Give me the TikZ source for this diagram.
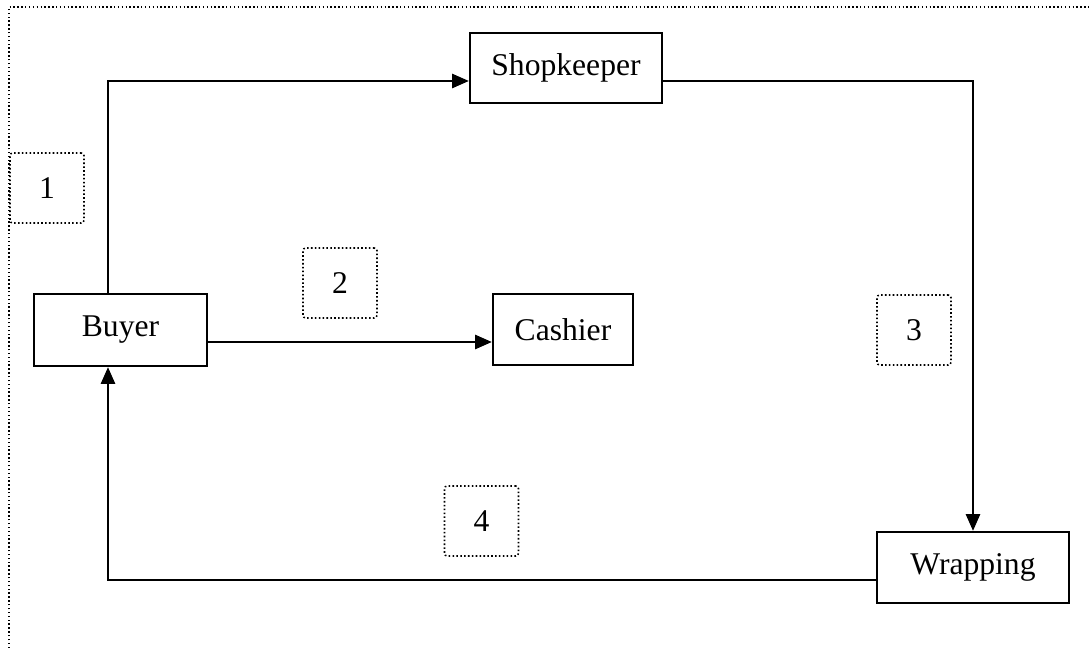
\documentclass[tikz,border=0pt]{standalone}
\usepackage{fontspec}
\setmainfont{Liberation Serif}
\usetikzlibrary{arrows.meta}
\begin{document}
\begin{tikzpicture}[x=0.02cm,y=-0.02cm,
  every node/.style={font=\fontsize{18}{20}\selectfont},
  mainbox/.style={draw,line width=1.3pt,inner sep=0pt},
  labelbox/.style={draw,line width=0.9pt,dash pattern=on 0.9pt off 1.3pt,rounded corners=1.5pt,inner sep=0pt,minimum width=1.48cm,minimum height=1.4cm},
  conn/.style={line width=1.3pt},
  arr/.style={conn,-{Triangle[length=9.5pt,width=8pt]}},
  frame/.style={line width=0.8pt,dash pattern=on 0.8pt off 1.4pt}]
\useasboundingbox (0,0) rectangle (1089,648);
% outer frame (only top and left edges visible)
\draw[frame] (9,648) -- (9,7) -- (1089,7);
% main boxes
\node[mainbox,minimum width=3.46cm,minimum height=1.44cm] (buyer) at (120.5,330) {Buyer};
\node[mainbox,minimum width=3.84cm,minimum height=1.4cm] (shop) at (566,68) {Shopkeeper};
\node[mainbox,minimum width=2.8cm,minimum height=1.42cm] (cash) at (563,329.5) {Cashier};
\node[mainbox,minimum width=3.84cm,minimum height=1.42cm] (wrap) at (973,567.5) {Wrapping};
% label boxes
\node[labelbox] (l1) at (47,188) {1};
\node[labelbox] (l2) at (340,283) {2};
\node[labelbox] (l3) at (914,330) {3};
\node[labelbox] (l4) at (481.5,521) {4};
% helper coordinates for bends
\coordinate (b1) at (108,81);
\coordinate (b2) at (108,580);
\coordinate (b3) at (300,342);
% connectors
\draw[arr] (buyer.north -| b1) |- (shop.west |- b1);
\draw[arr] (shop.east |- b1) -| (wrap.north);
\draw[arr] (wrap.west |- b2) -| (buyer.south -| b2);
\draw[arr] (buyer.east |- b3) -- (cash.west |- b3);
\end{tikzpicture}
\end{document}
